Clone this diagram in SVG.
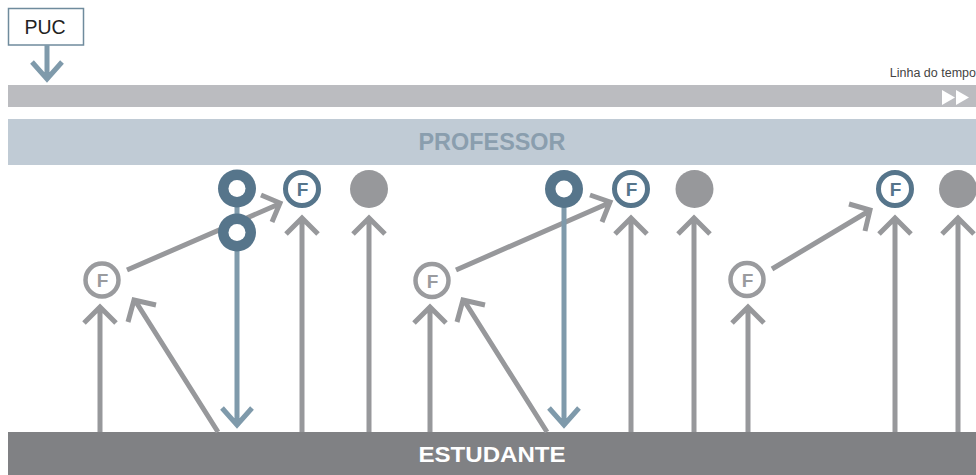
<svg xmlns="http://www.w3.org/2000/svg" width="976" height="475" viewBox="0 0 976 475">
<style>
.g{stroke:#97989b;stroke-width:5;fill:none;stroke-linejoin:miter;stroke-miterlimit:10}
.b{stroke:#7f9aab;stroke-width:5;fill:none;stroke-linejoin:miter;stroke-miterlimit:10}
.ring{fill:#56758b}
.hole{fill:#fff}
.fd{fill:#fff;stroke:#56758b;stroke-width:5}
.fg{fill:#fff;stroke:#9a9b9e;stroke-width:4.5}
.ftd{font-family:"Liberation Sans",Arial,sans-serif;font-weight:bold;font-size:19px;fill:#56758b;text-anchor:middle}
.ftg{font-family:"Liberation Sans",Arial,sans-serif;font-weight:bold;font-size:19px;fill:#9a9b9e;text-anchor:middle}
.dot{fill:#97989b}
</style>
<rect x="0" y="0" width="976" height="475" fill="#fff"/>
<g id="timeline">
<rect x="8" y="85" width="968" height="22" fill="#bbbcc0"/>
<polygon points="942,90 955,97.5 942,105" fill="#fff"/>
<polygon points="956,90 969,97.5 956,105" fill="#fff"/>
<text x="976" y="76.5" font-family="'Liberation Sans',Arial,sans-serif" font-size="12.5" fill="#444" text-anchor="end">Linha do tempo</text>
</g>
<g id="professor">
<rect x="8" y="119" width="968" height="46" fill="#c0cbd5"/>
<text x="492" y="149.5" font-family="'Liberation Sans',Arial,sans-serif" font-weight="bold" font-size="23" fill="#8a9eae" text-anchor="middle" textLength="147" lengthAdjust="spacingAndGlyphs">PROFESSOR</text>
</g>
<g id="estudante">
<rect x="8" y="432" width="968" height="43" fill="#808184"/>
<text x="492" y="462" font-family="'Liberation Sans',Arial,sans-serif" font-weight="bold" font-size="22" fill="#fff" text-anchor="middle" textLength="147" lengthAdjust="spacingAndGlyphs">ESTUDANTE</text>
</g>
<g id="puc">
<rect x="8.5" y="8.5" width="75" height="36.5" fill="#fff" stroke="#6f8b9d" stroke-width="1.5"/>
<text x="45" y="33.5" font-family="'Liberation Sans',Arial,sans-serif" font-size="19.5" fill="#222" text-anchor="middle">PUC</text>
</g>
<g id="connectors">
<path class="b" d="M47 45 V79 M32 62 L47 79 L62 62"/>
<path class="g" d="M100 432 V308 M84 323 L100 307 L116 323"/>
<path class="g" d="M218 432 L136 302 M128 322 L134 300 L156 305"/>
<path class="g" d="M127 270 L279 204 M261 195 L280 203 L272 222"/>
<path class="g" d="M302 432 V219 M286 234 L302 218 L318 234"/>
<path class="g" d="M369 432 V219 M353 234 L369 218 L385 234"/>
<path class="b" d="M237 189 V424 M222 408 L237 425 L252 408"/>
<path class="g" d="M430 432 V308 M414 323 L430 307 L446 323"/>
<path class="g" d="M547 432 L465 302 M457 322 L463 300 L485 305"/>
<path class="g" d="M456 270 L609 203 M590 195 L610 202 L602 222"/>
<path class="g" d="M631 432 V219 M615 234 L631 218 L647 234"/>
<path class="g" d="M694 432 V219 M678 234 L694 218 L710 234"/>
<path class="b" d="M564 189 V424 M549 408 L564 425 L579 408"/>
<path class="g" d="M748 432 V308 M732 323 L748 307 L764 323"/>
<path class="g" d="M772 269 L869 211 M849 204 L870 210 L865 231"/>
<path class="g" d="M895 432 V219 M879 234 L895 218 L911 234"/>
<path class="g" d="M958 432 V219 M942 234 L958 218 L974 234"/>
</g>
<g id="n1-ring-top"><circle class="ring" cx="237" cy="188.5" r="19"/><circle class="hole" cx="237" cy="188.5" r="8.5"/></g>
<g id="n1-ring-bottom"><circle class="ring" cx="237" cy="232.5" r="19"/><circle class="hole" cx="237" cy="232.5" r="8.5"/></g>
<g id="n1-f-teacher"><circle class="fd" cx="302" cy="189" r="16.5"/><text class="ftd" x="302.5" y="196">F</text></g>
<g id="n1-dot"><circle class="dot" cx="369" cy="189" r="19"/></g>
<g id="n1-f-student"><circle class="fg" cx="102" cy="280" r="16.5"/><text class="ftg" x="102.5" y="287">F</text></g>
<g id="n2-ring"><circle class="ring" cx="564" cy="189" r="19"/><circle class="hole" cx="564" cy="189" r="8.5"/></g>
<g id="n2-f-teacher"><circle class="fd" cx="631" cy="189" r="16.5"/><text class="ftd" x="631.5" y="196">F</text></g>
<g id="n2-dot"><circle class="dot" cx="694.5" cy="189" r="19"/></g>
<g id="n2-f-student"><circle class="fg" cx="432" cy="280.5" r="16.5"/><text class="ftg" x="432.5" y="287.5">F</text></g>
<g id="n3-f-teacher"><circle class="fd" cx="895" cy="189" r="16.5"/><text class="ftd" x="895.5" y="196">F</text></g>
<g id="n3-dot"><circle class="dot" cx="958" cy="189" r="19"/></g>
<g id="n3-f-student"><circle class="fg" cx="747" cy="279.5" r="16.5"/><text class="ftg" x="747.5" y="286.5">F</text></g>
</svg>
